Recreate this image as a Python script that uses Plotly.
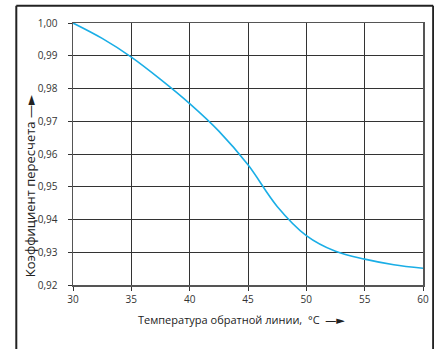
import plotly.graph_objects as go

temperature = [30, 32.5, 35, 37.5, 40, 42.5, 45, 47.5, 50, 52.5, 55, 57.5, 60]
coefficient = [1.000, 0.9953, 0.9896, 0.9828, 0.9754, 0.9670, 0.9567, 0.9440, 0.9351, 0.9303, 0.9279, 0.9262, 0.9251]

x_ticks = [30, 35, 40, 45, 50, 55, 60]
y_ticks = [0.92, 0.93, 0.94, 0.95, 0.96, 0.97, 0.98, 0.99, 1.00]

x_title = "Температура обратной линии,  °C  —►"
y_title = "Коэффициент пересчета —►"

fig = go.Figure()
fig.add_trace(go.Scatter(
    x=temperature, y=coefficient, mode="lines",
    line=dict(color="#1AAEE6", width=1.6, shape="spline", smoothing=1.0),
    hoverinfo="skip", showlegend=False,
))

font_family = "Open Sans, Noto Sans, DejaVu Sans, sans-serif"

fig.update_layout(
    width=434, height=349,
    margin=dict(l=73, r=11, t=23, b=64, autoexpand=False),
    paper_bgcolor="white", plot_bgcolor="white",
    separators=", ",
    font=dict(family=font_family, size=10, color="#333"),
    xaxis=dict(
        range=[30, 60], tickvals=x_ticks, ticktext=[str(v) for v in x_ticks],
        showgrid=True, gridcolor="#333", gridwidth=1,
        showline=True, linecolor="#555", linewidth=1.5, mirror=True,
        ticks="outside", ticklen=4, tickcolor="#333", zeroline=False,
        tickfont=dict(size=10, color="#333"),
    ),
    yaxis=dict(
        range=[0.92, 1.00], tickvals=y_ticks, ticktext=[f"{v:.2f}".replace(".", ",") for v in y_ticks],
        showgrid=True, gridcolor="#333", gridwidth=1,
        showline=True, linecolor="#555", linewidth=1.5, mirror=True,
        ticks="outside", ticklen=4, tickcolor="#333", zeroline=False,
        tickfont=dict(size=10, color="#333"), ticklabelstandoff=8,
    ),
    shapes=[
        dict(type="line", xref="paper", yref="paper", x0=-0.162, x1=-0.162, y0=-0.30, y1=1.066,
             line=dict(color="#222", width=2)),
        dict(type="line", xref="paper", yref="paper", x0=1.029, x1=1.029, y0=-0.30, y1=1.066,
             line=dict(color="#222", width=2)),
        dict(type="line", xref="paper", yref="paper", x0=-0.162, x1=1.029, y0=1.066, y1=1.066,
             line=dict(color="#222", width=2)),
    ],
    annotations=[
        dict(text=x_title, xref="paper", yref="paper", x=0.481, y=-0.13,
             xanchor="center", yanchor="middle", showarrow=False,
             font=dict(size=11, color="#222")),
        dict(text=y_title, xref="paper", yref="paper", x=-0.122, y=0.378,
             xanchor="center", yanchor="middle", showarrow=False, textangle=-90,
             font=dict(size=13, color="#222")),
    ],
)

fig.write_html("out.html", config={"displayModeBar": False, "staticPlot": True},
               post_script="document.body.style.margin='0';document.body.style.overflow='hidden';")
